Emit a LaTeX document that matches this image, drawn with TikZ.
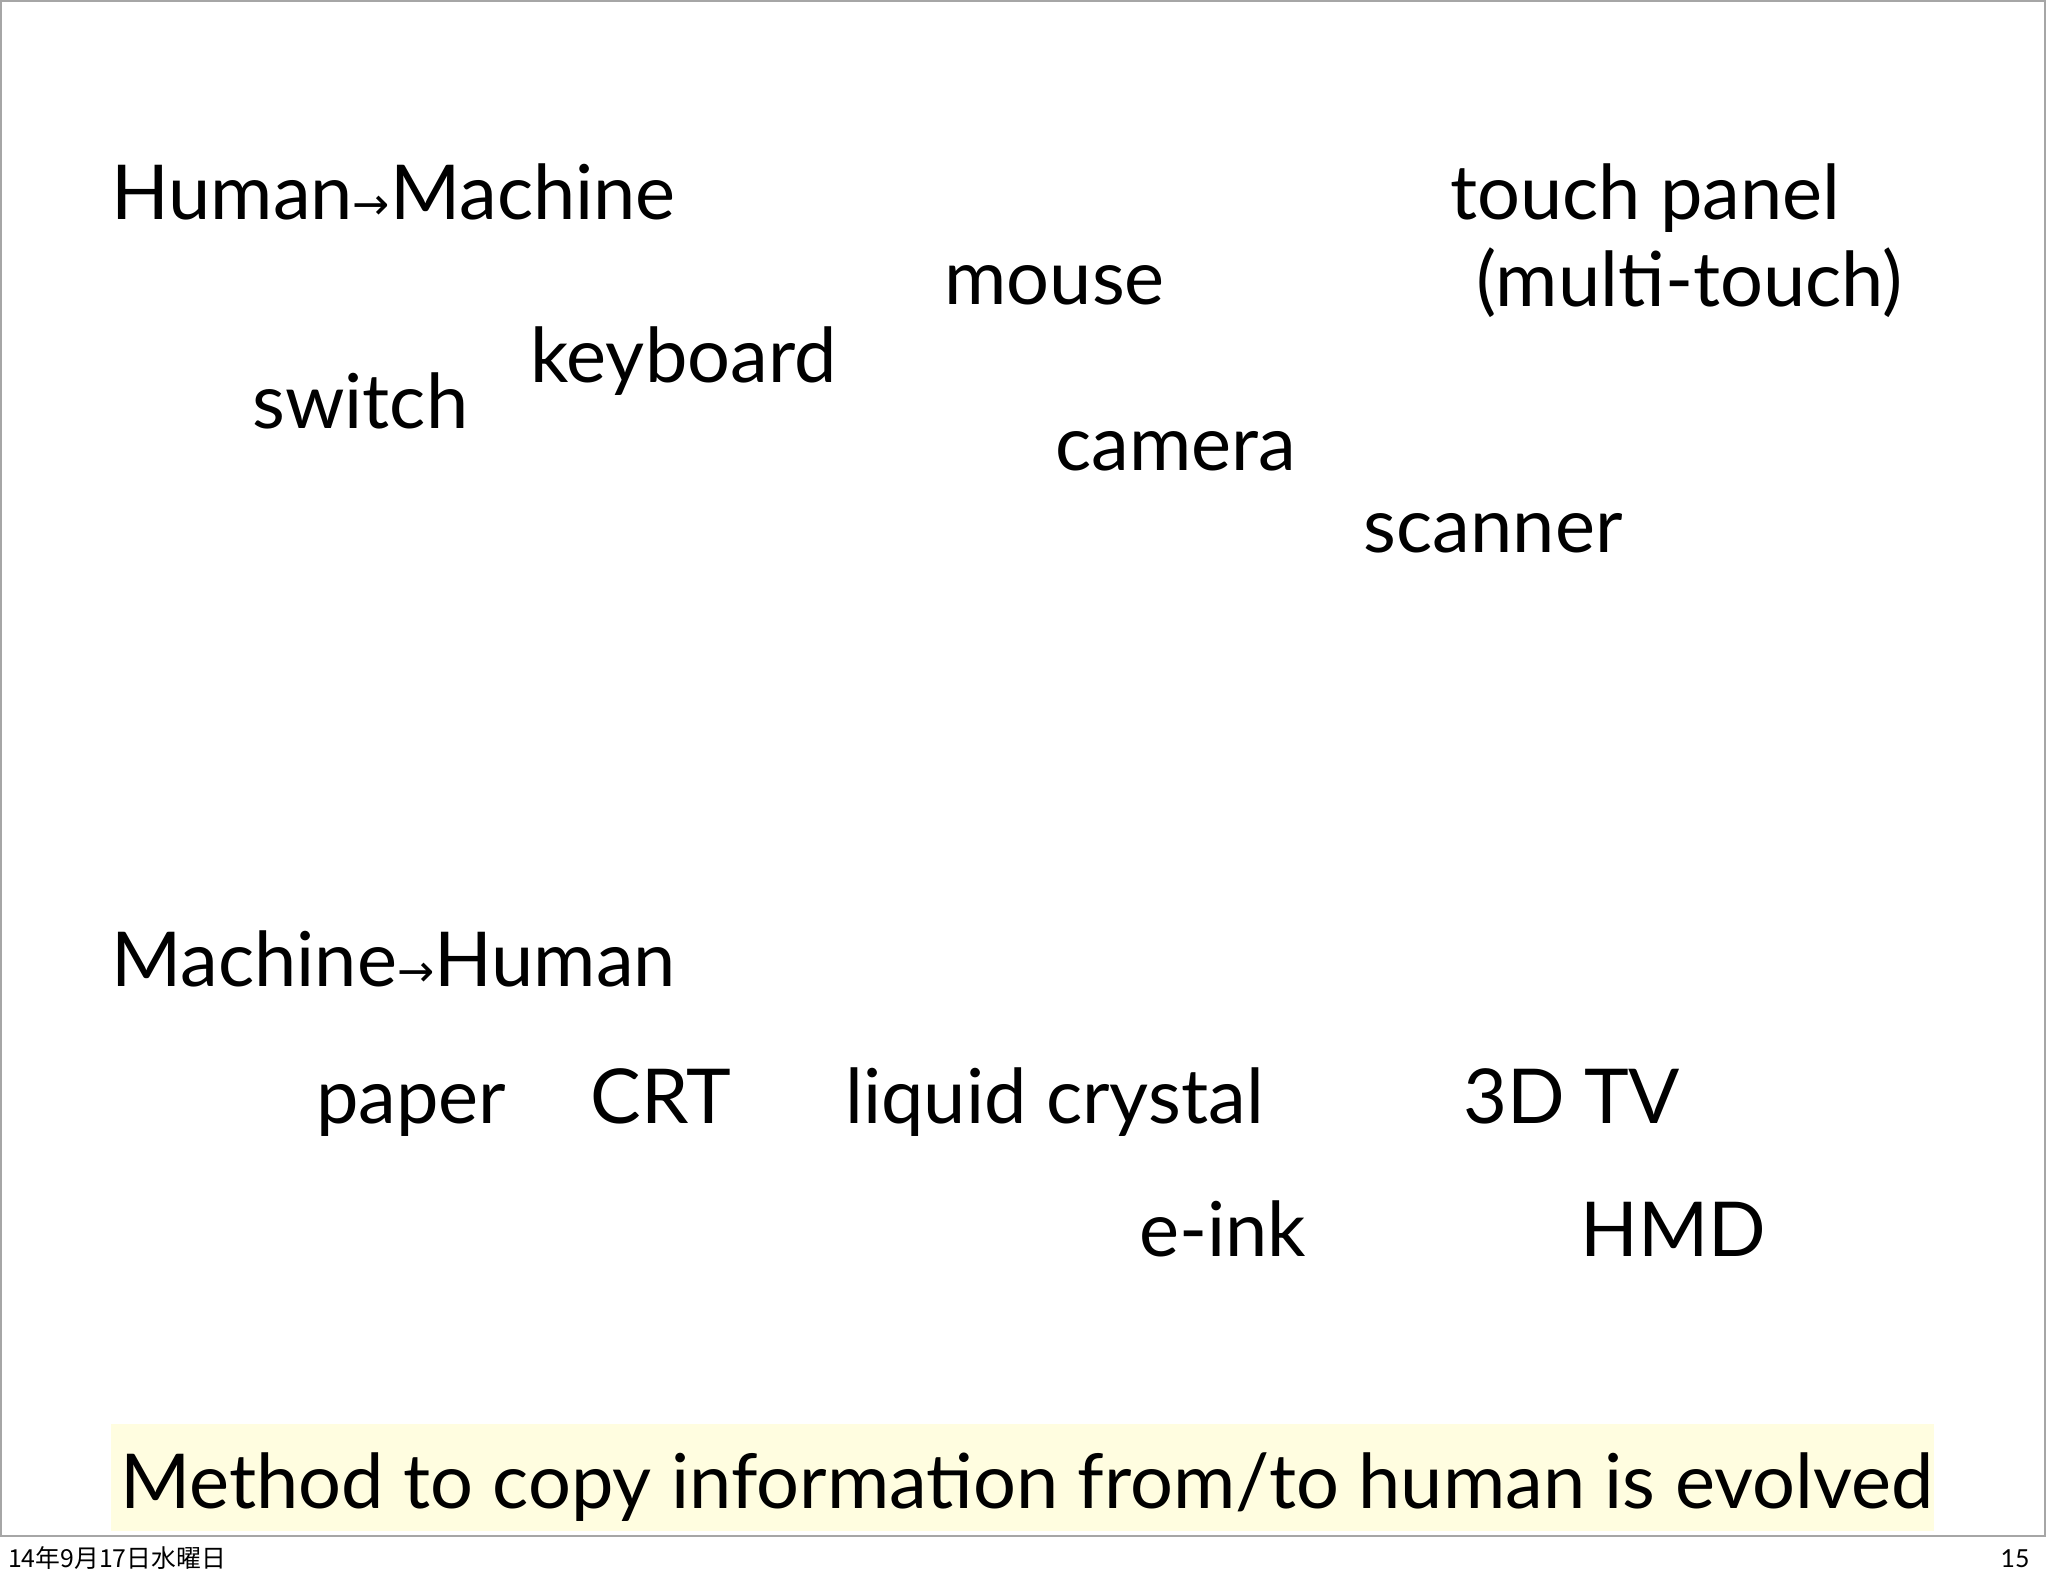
\documentclass[tikz,border=0pt]{standalone}
\usepackage{fontspec}
\setmainfont{Lato}
\newfontfamily\arrowfont{DejaVu Sans}
\newfontfamily\cjk{Noto Sans CJK JP}
\begin{document}
\begin{tikzpicture}[x=1pt,y=-1pt,
  lbl/.style={anchor=base west,inner sep=0pt,font=\fontsize{58}{60}\selectfont}]
\useasboundingbox (0,0) rectangle (1568,1215);
\fill[white] (0,0) rectangle (1568,1215);
\draw[gray!70,line width=1.5] (1,1) rectangle (1566,1176);
\fill[yellow!12] (85,1090) rectangle (1481,1172);
\node[lbl] (hm) at (85,168) {Human{\arrowfont\fontsize{34}{34}\selectfont→}Machine};
\node[lbl] (tp) at (1110,168) {touch panel};
\node[lbl] (mt) at (1130,235) {(multi-touch)};
\node[lbl] (mo) at (723,233) {mouse};
\node[lbl] (kb) at (406,293) {keyboard};
\node[lbl] (sw) at (193,328) {switch};
\node[lbl] (ca) at (808,360) {camera};
\node[lbl] (sc) at (1044,423) {scanner};
\node[lbl] (mh) at (85,755) {Machine{\arrowfont\fontsize{34}{34}\selectfont→}Human};
\node[lbl] (pa) at (242,860) {paper};
\node[lbl] (crt) at (452,860) {CRT};
\node[lbl] (lc) at (647,860) {liquid crystal};
\node[lbl] (tv) at (1120,860) {3D TV};
\node[lbl] (ei) at (872,962) {e-ink};
\node[lbl] (hmd) at (1210,962) {HMD};
\node[lbl] (me) at (92,1155) {Method to copy information from/to human is evolved};
\node[anchor=base west,inner sep=0pt,font=\cjk\fontsize{19}{20}\selectfont] (d) at (6,1200) {14年9月17日水曜日};
\node[anchor=base east,inner sep=0pt,font=\fontsize{19}{20}\selectfont] (pg) at (1554,1200) {15};
\end{tikzpicture}
\end{document}
